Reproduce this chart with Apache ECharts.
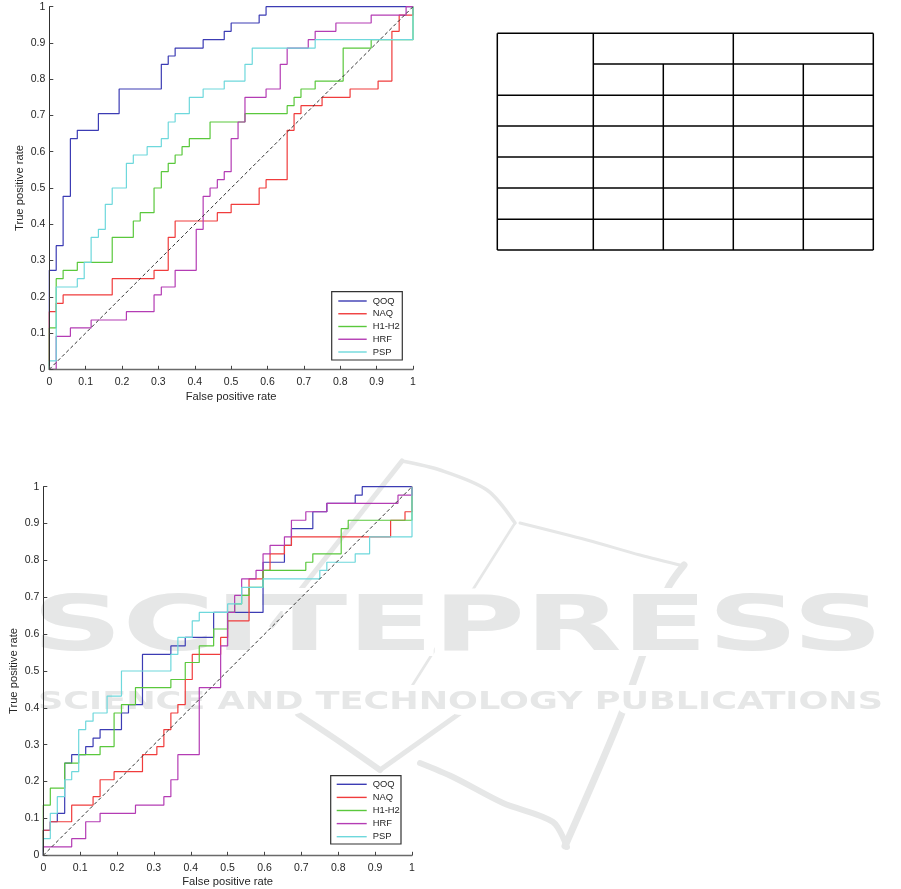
<!DOCTYPE html>
<html><head><meta charset="utf-8">
<script src="https://cdn.jsdelivr.net/npm/echarts@6/dist/echarts.min.js"></script>
<style>html,body{margin:0;padding:0;background:#fff}#c{width:901px;height:889px}</style>
</head><body><div id="c"></div>
<script>
// ---------- DATA (ROC corner points: false positive rate / true positive rate) ----------
const seriesNames = ['QOQ', 'NAQ', 'H1-H2', 'HRF', 'PSP'];
const seriesColors = ['#3c3cb4', '#f03c3c', '#5ac83c', '#b43cb4', '#6ed8dc'];
const tickValues = [0, 0.1, 0.2, 0.3, 0.4, 0.5, 0.6, 0.7, 0.8, 0.9, 1];

// top chart
const topQOQ_fpr = [0,0,.019,.038,.058,.077,.135,.192,.308,.327,.346,.423,.481,.5,.577,.596,1];
const topQOQ_tpr = [0,.273,.341,.477,.636,.659,.705,.773,.841,.864,.886,.909,.932,.955,.977,1,1];
const topNAQ_fpr = [0,0,.019,.038,.173,.288,.327,.346,.462,.5,.577,.596,.654,.673,.692,.75,.827,.904,.942,.962,1];
const topNAQ_tpr = [0,.159,.182,.205,.25,.273,.364,.409,.432,.455,.5,.523,.659,.705,.727,.75,.773,.795,.932,.977,1];
const topH12_fpr = [0,0,.019,.038,.077,.173,.231,.25,.288,.308,.327,.346,.365,.385,.442,.538,.654,.673,.692,.731,.808,.885,1];
const topH12_tpr = [0,.114,.25,.273,.295,.364,.409,.432,.5,.545,.568,.591,.614,.636,.682,.705,.727,.75,.773,.795,.886,.909,1];
const topHRF_fpr = [0,.019,.058,.115,.212,.288,.308,.346,.404,.423,.442,.462,.481,.5,.519,.538,.596,.635,.654,.712,.731,.788,.885,.981,1];
const topHRF_tpr = [0,.091,.114,.136,.159,.205,.227,.273,.386,.477,.5,.523,.545,.636,.682,.75,.773,.841,.886,.909,.932,.955,.977,1,1];
const topPSP_fpr = [0,0,.019,.077,.096,.115,.135,.154,.173,.212,.231,.269,.308,.327,.346,.385,.423,.481,.538,.558,.731,1];
const topPSP_tpr = [0,.023,.227,.25,.295,.364,.386,.455,.5,.568,.591,.614,.636,.682,.705,.75,.773,.795,.841,.886,.909,1];

// bottom chart
const botQOQ_fpr = [0,0,.019,.038,.058,.077,.115,.135,.154,.212,.231,.269,.346,.385,.462,.596,.654,.673,.731,.769,.846,.865,1];
const botQOQ_tpr = [0,.068,.091,.114,.25,.273,.295,.318,.341,.386,.409,.545,.568,.591,.659,.795,.841,.886,.932,.955,.977,1,1];
const botNAQ_fpr = [0,0,.019,.077,.135,.154,.192,.269,.308,.327,.346,.365,.385,.404,.481,.5,.558,.596,.615,.654,.673,.942,.981,1];
const botNAQ_tpr = [0,.068,.091,.136,.159,.205,.227,.273,.295,.341,.386,.409,.477,.545,.591,.636,.75,.773,.818,.841,.864,.909,.932,1];
const botH12_fpr = [0,0,.019,.058,.096,.154,.192,.212,.25,.346,.385,.423,.462,.5,.519,.538,.558,.596,.712,.731,.808,.827,1];
const botH12_tpr = [0,.136,.182,.25,.273,.295,.386,.409,.455,.477,.523,.568,.614,.659,.682,.705,.727,.773,.795,.818,.886,.909,1];
const botHRF_fpr = [0,0,.077,.115,.154,.25,.327,.346,.365,.423,.481,.5,.519,.538,.577,.596,.615,.654,.673,.712,.769,.962,1];
const botHRF_tpr = [0,.023,.045,.091,.114,.136,.159,.205,.273,.455,.568,.659,.705,.75,.773,.818,.841,.864,.909,.932,.955,.977,1];
const botPSP_fpr = [0,0,.019,.038,.058,.077,.096,.115,.135,.173,.212,.346,.365,.404,.423,.5,.538,.596,.75,.769,.846,.885,1];
const botPSP_tpr = [0,.045,.114,.159,.205,.227,.341,.364,.386,.432,.5,.545,.591,.636,.659,.682,.727,.75,.773,.795,.818,.864,1];

const chanceLine = [[0, 0], [1, 1]];

// ---------- CHART ----------
const FF = '"Liberation Sans", Arial, Helvetica, sans-serif';
const TXT = '#262626';
const WM = '#e6e7e7';
const pts = (fx, ty) => fx.map((v, i) => [v, ty[i]]);
const fmt = v => String(Math.round(v * 10) / 10);

const topSets = [[topQOQ_fpr, topQOQ_tpr], [topNAQ_fpr, topNAQ_tpr], [topH12_fpr, topH12_tpr], [topHRF_fpr, topHRF_tpr], [topPSP_fpr, topPSP_tpr]];
const botSets = [[botQOQ_fpr, botQOQ_tpr], [botNAQ_fpr, botNAQ_tpr], [botH12_fpr, botH12_tpr], [botHRF_fpr, botHRF_tpr], [botPSP_fpr, botPSP_tpr]];

function mkX(gi, gap) {
  return {
    gridIndex: gi, type: 'value', min: 0, max: 1, interval: 0.1, z: 12,
    name: 'False positive rate', nameLocation: 'middle', nameGap: gap,
    nameTextStyle: { fontSize: 11.2, color: TXT, fontFamily: FF },
    axisLine: { show: true, onZero: false, lineStyle: { color: '#6a6a6a', width: 1.3 } },
    axisTick: { show: true, inside: true, length: 3.5, lineStyle: { color: '#444' } },
    axisLabel: { margin: 7, fontSize: 10.5, color: TXT, fontFamily: FF, formatter: fmt, showMinLabel: true, showMaxLabel: true },
    splitLine: { show: false }
  };
}
function mkY(gi, gap) {
  return {
    gridIndex: gi, type: 'value', min: 0, max: 1, interval: 0.1, z: 12,
    name: 'True positive rate', nameLocation: 'middle', nameGap: gap, nameRotate: 90,
    nameTextStyle: { fontSize: 11.2, color: TXT, fontFamily: FF },
    axisLine: { show: true, onZero: false, lineStyle: { color: '#303030', width: 1 } },
    axisTick: { show: true, inside: true, length: 4, lineStyle: { color: '#444' } },
    axisLabel: { margin: 4, fontSize: 10.5, color: TXT, fontFamily: FF, formatter: fmt, showMinLabel: true, showMaxLabel: true },
    splitLine: { show: false }
  };
}

const series = [];
[topSets, botSets].forEach((sets, gi) => {
  sets.forEach((s, i) => {
    series.push({
      name: seriesNames[i], type: 'line', xAxisIndex: gi, yAxisIndex: gi,
      data: pts(s[0], s[1]), step: 'end', symbol: 'none', showSymbol: false,
      color: seriesColors[i], lineStyle: { width: 1.2, color: seriesColors[i] },
      silent: true, z: 10, z2: i
    });
  });
  series.push({
    name: 'chance', type: 'line', xAxisIndex: gi, yAxisIndex: gi, data: chanceLine,
    symbol: 'none', silent: true, z: 11,
    lineStyle: { width: 1, color: '#333', type: [3.5, 2.5] }
  });
});

// ---- layout helpers (watermark text fitting) ----
function measure(text, font) {
  const c = document.createElement('canvas').getContext('2d');
  c.font = font; return c.measureText(text).width;
}
const wm1Text = 'SCITEPRESS', wm1Font = 'bold 77px "DejaVu Sans"';
const wm2Text = 'SCIENCE AND TECHNOLOGY PUBLICATIONS', wm2Font = 'bold 25px "DejaVu Sans"';
const wm1Scale = (883 - 32) / measure(wm1Text, wm1Font);
const wm2Scale = (883 - 38) / measure(wm2Text, wm2Font);

const gfx = [];
// watermark logo strokes
const wmLines = [
  { p: [[402, 461], [440, 470], [487, 490], [515, 523]], w: 3.5 },
  { p: [[402, 461], [272, 626]], w: 5 },
  { p: [[520, 523], [587, 540], [640, 555], [684, 566]], w: 3 },
  { p: [[515, 523], [405, 697]], w: 2.6 },
  { p: [[684, 565], [667, 590], [620, 718], [565, 846]], w: 7 },
  { p: [[420, 763], [453, 777], [503, 803], [553, 822], [567, 847]], w: 6 },
  { p: [[298, 714], [340, 742], [380, 770]], w: 6 },
  { p: [[380, 770], [470, 706]], w: 5 }
];
wmLines.forEach(l => gfx.push({ type: 'polyline', silent: true, z: 0, zlevel: 0,
  shape: { points: l.p, smooth: 0.3 }, style: { stroke: WM, lineWidth: l.w, fill: null, lineCap: 'round' } }));
const wmTexts = [[wm1Text, wm1Font, 32, 630, wm1Scale], [wm2Text, wm2Font, 38, 702.5, wm2Scale]];
wmTexts.forEach(t => gfx.push({ type: 'text', silent: true, z: 0, x: t[2], y: t[3], scaleX: t[4],
  style: { text: t[0], font: t[1], fill: '#fff', stroke: '#fff', lineWidth: 12, textAlign: 'left', textVerticalAlign: 'middle' } }));
wmTexts.forEach(t => gfx.push({ type: 'text', silent: true, z: 0, x: t[2], y: t[3], scaleX: t[4],
  style: { text: t[0], font: t[1], fill: WM, textAlign: 'left', textVerticalAlign: 'middle' } }));

// empty table (top right)
const tL = 497.3, tR = 873.3, tT = 33.3, tB = 250;
const hRows = [[tT, tL, tR], [64, 593.3, tR], [95.3, tL, tR], [126, tL, tR], [157, tL, tR], [188, tL, tR], [219.3, tL, tR], [tB, tL, tR]];
const vCols = [[tL, tT, tB], [593.3, tT, tB], [663.3, 64, tB], [733.3, tT, tB], [803.3, 64, tB], [tR, tT, tB]];
hRows.forEach(h => gfx.push({ type: 'line', silent: true, z: 1, shape: { x1: h[1], y1: h[0], x2: h[2], y2: h[0] }, style: { stroke: '#000', lineWidth: 1.5 } }));
vCols.forEach(v => gfx.push({ type: 'line', silent: true, z: 1, shape: { x1: v[0], y1: v[1], x2: v[0], y2: v[2] }, style: { stroke: '#000', lineWidth: 1.5 } }));

// legend boxes
gfx.push({ type: 'rect', silent: true, z: 25, shape: { x: 331.7, y: 291.7, width: 70.6, height: 68.3 }, style: { fill: '#fff', stroke: '#333', lineWidth: 1.2 } });
gfx.push({ type: 'rect', silent: true, z: 25, shape: { x: 330.7, y: 775.7, width: 70.3, height: 68.3 }, style: { fill: '#fff', stroke: '#333', lineWidth: 1.2 } });

const legendBase = {
  data: seriesNames, orient: 'vertical', padding: 0, icon: 'rect', itemHeight: 1.4,
  selectedMode: false, z: 30,
  textStyle: { fontSize: 9.4, color: TXT, fontFamily: FF, lineHeight: 12, padding: [0, 0, 0, 1] }
};

const option = {
  animation: false,
  backgroundColor: '#fff',
  grid: [
    { left: 49.3, top: 6.7, width: 363.7, height: 362.6, containLabel: false },
    { left: 43.3, top: 486.7, width: 368.7, height: 368.6, containLabel: false }
  ],
  xAxis: [mkX(0, 22), mkX(1, 21)],
  yAxis: [mkY(0, 24), mkY(1, 24)],
  legend: [
    Object.assign({}, legendBase, { left: 338.3, top: 295, itemGap: 0.75, itemWidth: 28.4 }),
    Object.assign({}, legendBase, { left: 336.7, top: 778.3, itemGap: 1.1, itemWidth: 30 })
  ],
  graphic: { elements: gfx },
  series: series
};

const chart = echarts.init(document.getElementById('c'), null, { renderer: 'canvas' });
chart.setOption(option);
</script></body></html>
